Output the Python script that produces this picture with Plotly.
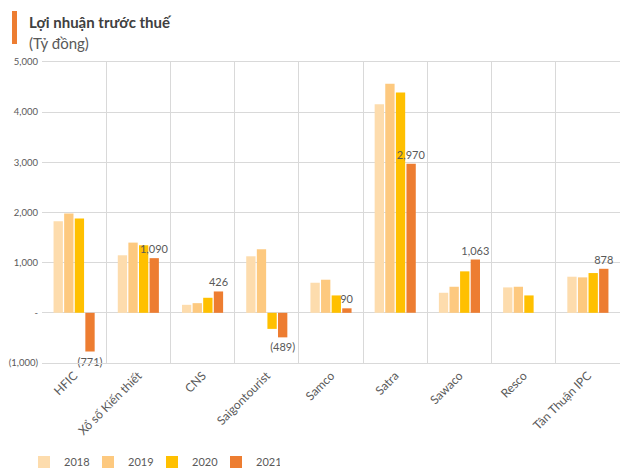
import plotly.graph_objects as go

categories = ["HFIC", "Xổ số Kiến thiết", "CNS", "Saigontourist", "Samco",
              "Satra", "Sawaco", "Resco", "Tân Thuận IPC"]
v2018 = [1827, 1147, 160, 1127, 600, 4160, 400, 507, 720]
v2019 = [1980, 1400, 193, 1267, 660, 4567, 520, 520, 707]
v2020 = [1880, 1347, 300, -320, 347, 4393, 827, 347, 793]
v2021 = [-771, 1090, 426, -489, 90, 2970, 1063, None, 878]
labels2021 = ["(771)", "1,090", "426", "(489)", "90", "2,970", "1,063", "", "878"]
tick_vals = [-1000, 0, 1000, 2000, 3000, 4000, 5000]
tick_text = ["(1,000)", "-", "1,000", "2,000", "3,000", "4,000", "5,000"]

# page body has an 8px default margin; lay the figure out in window pixels
OFF = 8
W, H = 630 - OFF, 476 - OFF
L, R, T, B = 42 - OFF, 10, 62 - OFF, 476 - 363
pw, ph = W - L - R, H - T - B

def px(xw):
    return (xw - OFF - L) / pw

def py(yw):
    return (H - B - (yw - OFF)) / ph

FONT = "Lato, Calibri, Carlito, sans-serif"
colors = ["#FDDCAD", "#FDC97F", "#FFC000", "#ED7D31"]

fig = go.Figure()
for name, vals, c in zip(["2018", "2019", "2020"], [v2018, v2019, v2020], colors[:3]):
    fig.add_trace(go.Bar(x=categories, y=vals, name=name, marker_color=c,
                         marker_line_width=0, hoverinfo="skip"))
fig.add_trace(go.Bar(x=categories, y=v2021, name="2021", marker_color=colors[3],
                     marker_line_width=0, text=labels2021, textposition="outside",
                     constraintext="none",
                     textfont=dict(size=11, color="#595959", family=FONT),
                     cliponaxis=False))

fig.update_layout(
    width=W, height=H,
    margin=dict(l=L, r=R, t=T, b=B, autoexpand=False),
    paper_bgcolor="white", plot_bgcolor="white",
    barmode="group", bargap=0.34, bargroupgap=0.12,
    font=dict(family=FONT, color="#595959", size=11),
    showlegend=True,
    legend=dict(orientation="h", xref="container", yref="container",
                x=16 / W, xanchor="left", y=(476 - 462) / H, yanchor="middle",
                font=dict(size=11, color="#595959"), entrywidth=19, entrywidthmode="pixels",
                itemwidth=30, traceorder="normal"),
)
fig.update_xaxes(type="category", tickangle=-45, tickson="boundaries",
                 showgrid=True, gridcolor="#D9D9D9", gridwidth=1,
                 showline=True, linecolor="#D9D9D9", mirror=True, automargin=False,
                 ticks="", tickfont=dict(size=12, color="#595959"))
fig.update_yaxes(range=[-1000, 5000], tickvals=tick_vals, ticktext=tick_text,
                 showgrid=True, gridcolor="#D9D9D9", gridwidth=1,
                 zeroline=True, zerolinecolor="#D9D9D9", zerolinewidth=1,
                 showline=False, ticks="", ticklabelstandoff=3, automargin=False,
                 tickfont=dict(size=9.5, color="#595959"))

fig.add_shape(type="rect", xref="paper", yref="paper",
              x0=px(12), x1=px(17), y0=py(44), y1=py(11),
              fillcolor="#ED7D31", line_width=0)
fig.add_annotation(xref="paper", yref="paper", x=px(27), y=py(22), xanchor="left",
                   yanchor="middle", showarrow=False,
                   text="<b>Lợi nhuận trước thuế</b>",
                   font=dict(size=15, color="#404040", family=FONT))
fig.add_annotation(xref="paper", yref="paper", x=px(27), y=py(43), xanchor="left",
                   yanchor="middle", showarrow=False, text="(Tỷ đồng)",
                   font=dict(size=15, color="#595959", family=FONT))

fig.write_html("out.html")
